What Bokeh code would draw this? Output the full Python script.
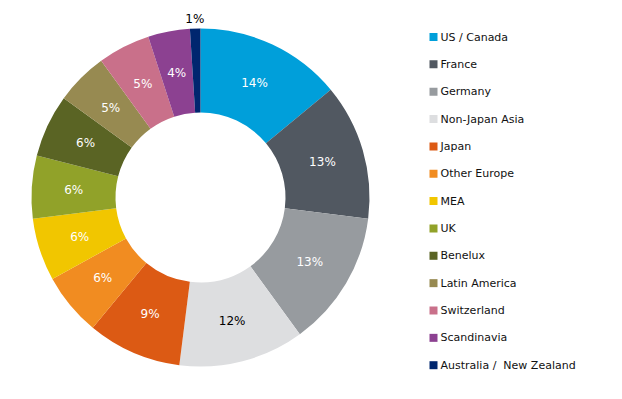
import math
from bokeh.plotting import figure
from bokeh.models import ColumnDataSource, Range1d
from bokeh.core.properties import value
from bokeh.embed import file_html
from bokeh.resources import INLINE

regions = ["US / Canada", "France", "Germany", "Non-Japan Asia", "Japan", "Other Europe",
           "MEA", "UK", "Benelux", "Latin America", "Switzerland", "Scandinavia",
           "Australia / \u00a0New Zealand"]
shares = [14, 13, 13, 12, 9, 6, 6, 6, 6, 5, 5, 4, 1]
colors = ["#009FDA", "#515861", "#979B9F", "#DDDEE0", "#DC5A14", "#F18C21",
          "#F1C600", "#91A229", "#5A6424", "#978A51", "#C9708A", "#8C4191", "#00266F"]
label_colors = ["white", "white", "white", "black", "white", "white",
                "white", "white", "white", "white", "white", "white", "black"]

W, H = 606, 383
p = figure(width=W, height=H, output_backend="svg", toolbar_location=None,
           x_range=Range1d(0, W), y_range=Range1d(-H, 0),
           min_border=0, outline_line_color=None, background_fill_color="white",
           border_fill_color="white")
p.axis.visible = False
p.grid.visible = False

cx, cy = 200, -197
r_out, r_in = 169, 85
total = sum(shares)
starts, ends, lx, ly = [], [], [], []
cum = 0
for i, s in enumerate(shares):
    a0 = math.pi / 2 - 2 * math.pi * cum / total
    a1 = math.pi / 2 - 2 * math.pi * (cum + s) / total
    starts.append(a0)
    ends.append(a1)
    mid = (a0 + a1) / 2
    rr = (r_out + r_in) / 2 if s > 2 else r_out + 10
    lx.append(cx + rr * math.cos(mid))
    ly.append(cy + rr * math.sin(mid))
    cum += s

src = ColumnDataSource(dict(start=starts, end=ends, color=colors, x=lx, y=ly,
                            txt=[f"{v}%" for v in shares], tc=label_colors))
p.annular_wedge(x=cx, y=cy, inner_radius=r_in, outer_radius=r_out,
                start_angle="start", end_angle="end", direction="clock",
                fill_color="color", line_color=None, source=src)
p.text(x="x", y="y", text="txt", text_color="tc", text_align="center",
       text_baseline="middle", text_font=value("DejaVu Sans"),
       text_font_size="12px", source=src)

# legend
ly0, dy = -36.5, -27.35
leg_y = [ly0 + i * dy for i in range(len(regions))]
lsrc = ColumnDataSource(dict(y=leg_y, color=colors, name=regions))
p.rect(x=433, y="y", width=8, height=8, fill_color="color", line_color=None, source=lsrc)
p.text(x=440, y="y", text="name", text_color="#111111", text_align="left",
       text_baseline="middle", text_font=value("DejaVu Sans"),
       text_font_size="11px", source=lsrc)

open("out.html", "w").write(file_html(p, INLINE))
